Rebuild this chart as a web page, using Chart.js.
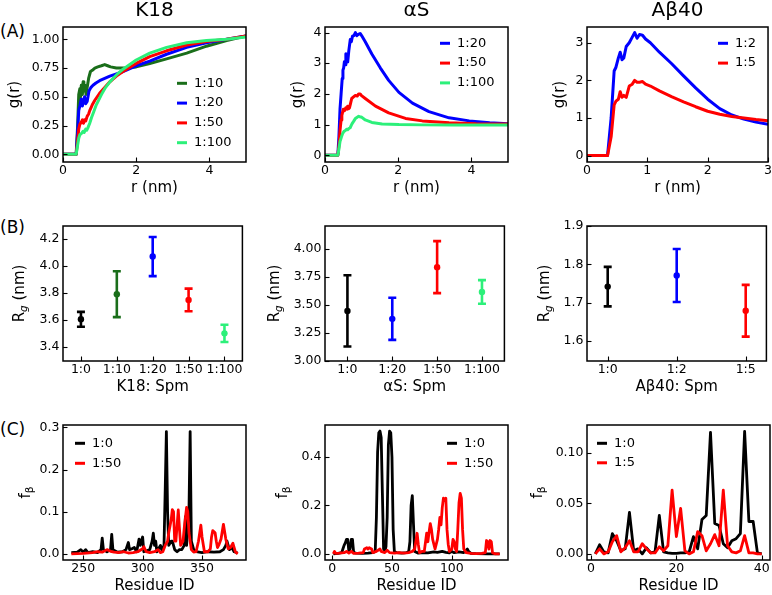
<!DOCTYPE html>
<html><head><meta charset="utf-8">
<script src="https://cdn.jsdelivr.net/npm/chart.js@4.4.1/dist/chart.umd.min.js"></script>
<style>
html,body{margin:0;padding:0;background:#fff;overflow:hidden}
body{width:772px;height:595px;position:relative;font-family:"DejaVu Sans",sans-serif}
canvas{position:absolute}
.pl{position:absolute;font-size:17px;line-height:20px;color:#000;white-space:nowrap}
</style></head><body>
<div class="pl" style="left:0;top:21px">(A)</div>
<div class="pl" style="left:0;top:217px">(B)</div>
<div class="pl" style="left:0;top:419px">(C)</div>
<script>
// ---------------- DATA ----------------
// Row A: g(r)
const k18R10 = [0,0.36,0.40,0.43,0.46,0.48,0.50,0.53,0.55,0.57,0.60,0.63,0.66,0.70,0.75,0.80,0.87,0.95,1.05,1.14,1.22,1.30,1.46,1.73,2.00,2.37,2.83,3.38,3.92,4.47,5.00];
const k18G10 = [0,0,0.25,0.52,0.57,0.50,0.60,0.52,0.63,0.55,0.60,0.52,0.58,0.66,0.72,0.73,0.75,0.76,0.77,0.78,0.77,0.76,0.75,0.75,0.76,0.79,0.83,0.88,0.94,0.99,1.03];
const k18R20 = [0,0.36,0.40,0.43,0.46,0.50,0.53,0.55,0.59,0.62,0.66,0.71,0.76,0.82,0.90,1.00,1.14,1.28,1.46,1.64,2.00,2.37,2.83,3.38,3.92,4.47,5.00];
const k18G20 = [0,0,0.2,0.38,0.42,0.48,0.42,0.46,0.50,0.44,0.46,0.55,0.58,0.60,0.62,0.64,0.66,0.68,0.70,0.72,0.77,0.81,0.87,0.93,0.97,1.00,1.03];
const k18R50 = [0,0.36,0.40,0.43,0.46,0.50,0.53,0.56,0.59,0.62,0.66,0.70,0.73,0.80,0.87,1.00,1.14,1.28,1.46,1.64,2.00,2.37,2.83,3.38,3.92,4.47,5.00];
const k18G50 = [0,0,0.12,0.22,0.26,0.28,0.30,0.27,0.30,0.29,0.33,0.35,0.38,0.43,0.47,0.53,0.58,0.63,0.68,0.72,0.79,0.85,0.90,0.95,0.98,1.00,1.03];
const k18R100 = [0,0.36,0.40,0.43,0.46,0.50,0.55,0.58,0.62,0.65,0.68,0.73,0.78,0.84,0.91,1.05,1.16,1.28,1.46,1.64,2.00,2.37,2.83,3.38,3.92,4.47,5.00];
const k18G100 = [0,0,0.08,0.14,0.17,0.18,0.20,0.19,0.22,0.21,0.23,0.27,0.32,0.37,0.43,0.52,0.58,0.63,0.69,0.74,0.82,0.88,0.93,0.97,0.99,1.00,1.02];

const asR20 = [0,0.35,0.38,0.41,0.44,0.47,0.49,0.51,0.53,0.55,0.57,0.60,0.62,0.65,0.69,0.72,0.75,0.79,0.83,0.87,0.90,0.93,0.96,1.00,1.10,1.28,1.51,1.74,2.02,2.39,2.84,3.39,3.94,4.50,5.00];
const asG20 = [0,0,0.6,1.5,2.0,2.5,2.77,2.85,3.05,2.95,3.31,3.1,3.04,3.4,3.77,3.7,3.88,3.9,4.0,3.9,3.93,3.95,3.97,3.9,3.7,3.3,2.85,2.44,2.05,1.7,1.42,1.22,1.12,1.06,1.03];
const asR50 = [0,0.35,0.38,0.41,0.44,0.46,0.50,0.53,0.57,0.60,0.62,0.65,0.67,0.70,0.73,0.78,0.83,0.88,0.92,0.96,0.99,1.10,1.38,1.74,2.20,2.66,3.39,4.13,5.00];
const asG50 = [0,0,0.3,0.8,1.15,1.3,1.5,1.45,1.55,1.5,1.6,1.52,1.55,1.7,1.85,1.9,1.95,1.93,2.0,2.0,1.95,1.85,1.6,1.38,1.2,1.12,1.06,1.03,1.02];
const asR100 = [0,0.35,0.38,0.41,0.45,0.48,0.52,0.55,0.59,0.62,0.66,0.69,0.72,0.75,0.79,0.83,0.88,0.92,0.96,0.99,1.10,1.28,1.56,2.02,2.66,3.50,5.00];
const asG100 = [0,0,0.2,0.45,0.6,0.7,0.78,0.8,0.85,0.83,0.88,0.9,0.98,1.05,1.12,1.2,1.24,1.27,1.25,1.25,1.15,1.07,1.02,1.0,0.99,0.99,0.99];

const abR = [0,0.34,0.40,0.45,0.48,0.52,0.55,0.58,0.61,0.65,0.70,0.75,0.79,0.83,0.87,0.92,0.97,1.05,1.20,1.40,1.60,1.80,2.00,2.20,2.40,2.60,2.80,3.00];
const abG2 = [0,0,1.0,2.25,2.35,2.6,2.75,2.55,2.6,2.9,3.0,3.15,3.27,3.12,3.22,3.2,3.1,3.0,2.75,2.45,2.12,1.8,1.5,1.25,1.08,0.97,0.89,0.83];
const abG5 = [0,0,0.5,1.35,1.45,1.5,1.7,1.55,1.6,1.55,1.85,1.9,2.0,1.95,1.95,1.97,1.9,1.85,1.72,1.57,1.43,1.3,1.18,1.1,1.04,1.0,0.96,0.93];

// Row B: Rg (mean, error)
const k18Cats = ['1:0','1:10','1:20','1:50','1:100'];
const k18Rg = [3.607,3.793,4.072,3.750,3.503];
const k18RgErr = [0.055,0.170,0.145,0.084,0.064];
const asCats = ['1:0','1:20','1:50','1:100'];
const asRg = [3.447,3.376,3.837,3.616];
const asRgErr = [0.318,0.188,0.232,0.105];
const abCats = ['1:0','1:2','1:5'];
const abRg = [1.742,1.771,1.679];
const abRgErr = [0.0515,0.069,0.0675];

// Row C: f_beta per residue
const c1Res0 = [240,245,248,250,252,254,258,262,265,266,267,270,273,274,275,279,283,286,288,289,291,293,295,297,298,300,301,304,306,308,309,310,311,312,315,316,318,319,320,321,322,324,325,327,329,331,333,335,336,337,339,340,341,343,345,350,355,360,365,368,370,371,373,375,377,380];
const c1Fb0 = [0.003,0.004,0.01,0.004,0.01,0.003,0.005,0.003,0.01,0.037,0.01,0.005,0.01,0.046,0.01,0.004,0.005,0.01,0.027,0.01,0.012,0.015,0.005,0.035,0.02,0.04,0.005,0.008,0.01,0.03,0.049,0.02,0.03,0.005,0.02,0.01,0.02,0.15,0.29,0.1,0.02,0.03,0.03,0.01,0.005,0.01,0.01,0.02,0.088,0.02,0.1,0.29,0.03,0.01,0.005,0.003,0.005,0.004,0.005,0.01,0.02,0.03,0.01,0.015,0.005,0.002];
const c1Res50 = [240,250,258,262,266,270,273,276,280,284,288,292,296,300,301,303,306,310,313,315,317,319,321,322,324,325,326,327,328,330,331,332,334,335,337,338,339,341,343,345,347,349,350,352,355,357,358,359,361,362,363,364,366,368,370,372,374,376,378,380];
const c1Fb50 = [0,0.001,0.003,0.005,0.004,0.01,0.006,0.004,0.003,0.005,0.002,0.003,0.005,0.012,0.017,0.005,0.003,0.005,0.01,0.003,0.005,0.02,0.03,0.05,0.08,0.105,0.1,0.03,0.03,0.104,0.06,0.02,0.03,0.06,0.11,0.1,0.05,0.01,0.004,0.005,0.03,0.068,0.04,0.005,0.005,0.012,0.04,0.055,0.05,0.03,0.015,0.02,0.035,0.07,0.035,0.012,0.015,0.025,0.005,0];

const c2Res0 = [1,5,8,9,10,11,12,13,14,15,16,17,18,20,25,30,34,36,37,38,39,40,41,42,43,44,45,46,47,48,49,50,51,52,54,58,62,64,65,66,67,68,69,72,76,80,85,88,92,95,98,100,102,106,110,112,113,114,116,120,130,140];
const c2Fb0 = [0,0.002,0.005,0.02,0.035,0.045,0.06,0.06,0.01,0.02,0.06,0.06,0.005,0.003,0.002,0.003,0.005,0.01,0.15,0.42,0.5,0.507,0.48,0.25,0.02,0.01,0.03,0.15,0.45,0.507,0.5,0.4,0.1,0.01,0.005,0.003,0.005,0.01,0.05,0.2,0.24,0.12,0.01,0.003,0.005,0.004,0.008,0.006,0.01,0.006,0.004,0.01,0.005,0.008,0.005,0.015,0.02,0.01,0.002,0.001,0,0];
const c2Res50 = [1,2,3,6,10,12,14,16,18,22,26,27,29,30,31,33,34,37,40,41,44,46,48,52,56,60,64,67,69,71,72,73,75,77,79,80,81,82,83,84,86,88,89,90,91,92,93,94,95,96,97,98,100,101,102,103,104,105,106,107,108,109,110,112,116,120,125,128,129,130,131,132,133,134,136,140];
const c2Fb50 = [0,0.01,0.002,0.003,0.005,0.01,0.003,0.01,0.002,0.003,0.005,0.02,0.025,0.02,0.025,0.02,0.005,0.01,0.02,0.01,0.005,0.015,0.005,0.003,0.005,0.003,0.005,0.01,0.02,0.085,0.04,0.005,0.01,0.01,0.085,0.05,0.09,0.125,0.1,0.06,0.02,0.06,0.1,0.15,0.12,0.19,0.23,0.22,0.23,0.1,0.04,0.01,0.02,0.06,0.05,0.02,0.01,0.1,0.21,0.25,0.23,0.1,0.02,0.005,0.002,0.001,0.002,0.005,0.055,0.05,0.02,0.055,0.05,0.005,0,0];

const c3Res = [1,2,3,4,5,6,7,8,9,10,11,12,13,14,15,16,17,18,19,20,21,22,23,24,25,26,27,28,29,30,31,32,33,34,35,36,37,38,39,40];
const c3Fb0 = [0,0.009,0.002,0.001,0.02,0.013,0.003,0.005,0.041,0.003,0.005,0,0.006,0.001,0.002,0.038,0.002,0.001,0.0005,0.0005,0.001,0.001,0.002,0.017,0.005,0.034,0.038,0.12,0.03,0.028,0.01,0.006,0.013,0.015,0.02,0.121,0.032,0.032,0.001,0];
const c3Fb5 = [0,0.005,0,0.002,0.012,0.018,0.002,0.006,0.013,0.002,0.002,0.01,0.005,0.001,0.001,0.007,0.003,0.008,0.063,0.017,0.045,0.003,0,0.002,0.022,0.018,0.003,0.01,0.019,0.008,0.063,0.008,0.002,0.001,0.003,0.018,0.001,0.001,0,0];

// Tick values / labels
const a1XTicks=[0,2,4], a1XLabels=['0','2','4'];
const a1YTicks=[0,0.25,0.5,0.75,1.0], a1YLabels=['0.00','0.25','0.50','0.75','1.00'];
const a2YTicks=[0,1,2,3,4], a2YLabels=['0','1','2','3','4'];
const a3XTicks=[0,1,2,3], a3XLabels=['0','1','2','3'];
const a3YTicks=[0,1,2,3], a3YLabels=['0','1','2','3'];
const b1YTicks=[3.4,3.6,3.8,4.0,4.2], b1YLabels=['3.4','3.6','3.8','4.0','4.2'];
const b2YTicks=[3.0,3.25,3.5,3.75,4.0], b2YLabels=['3.00','3.25','3.50','3.75','4.00'];
const b3YTicks=[1.6,1.7,1.8,1.9], b3YLabels=['1.6','1.7','1.8','1.9'];
const c1XTicks=[250,300,350], c1XLabels=['250','300','350'];
const c1YTicks=[0,0.1,0.2,0.3], c1YLabels=['0.0','0.1','0.2','0.3'];
const c2XTicks=[0,50,100], c2XLabels=['0','50','100'];
const c2YTicks=[0,0.2,0.4], c2YLabels=['0.0','0.2','0.4'];
const c3XTicks=[0,20,40], c3XLabels=['0','20','40'];
const c3YTicks=[0,0.05,0.10], c3YLabels=['0.00','0.05','0.10'];

// ---------------- STYLE / LAYOUT ----------------
const F = '"DejaVu Sans", sans-serif';
const BLACK='#000000', DG='#1a6e1a', BLUE='#0000ff', RED='#ff0000', LG='#2cf07a';
const COLS=[63,325,587], ROWS=[27,226,425];
const PW=183, PH=135, YW=62, XH=35, PT=27, PR=3;
const TL=4.5;

const pts=(xs,ys)=>xs.map((x,i)=>({x:x,y:ys[i]}));

const decor = {
  id:'decor',
  afterDatasetsDraw(chart, args, o){
    const ctx=chart.ctx, a=chart.chartArea, xs=chart.scales.x, ys=chart.scales.y;
    ctx.save();
    ctx.strokeStyle='#000'; ctx.lineWidth=1.1;
    xs.ticks.forEach(t=>{const p=Math.round(xs.getPixelForValue(t.value))+0.5; ctx.beginPath(); ctx.moveTo(p,a.bottom); ctx.lineTo(p,a.bottom-TL); ctx.stroke();});
    ys.ticks.forEach(t=>{const p=Math.round(ys.getPixelForValue(t.value))+0.5; ctx.beginPath(); ctx.moveTo(a.left,p); ctx.lineTo(a.left+TL,p); ctx.stroke();});
    ctx.lineWidth=1.5;
    ctx.strokeRect(a.left,a.top,a.right-a.left,a.bottom-a.top);
    ctx.fillStyle='#000';
    if(o.title){
      ctx.font='20px '+F; ctx.textAlign='center'; ctx.textBaseline='middle';
      ctx.fillText(o.title,(a.left+a.right)/2,10.5);
    }
    if(o.ytitle){
      const cx=a.left-o.yOff, cy=(a.top+a.bottom)/2, fs=15;
      ctx.translate(cx,cy); ctx.rotate(-Math.PI/2);
      ctx.textAlign='left'; ctx.textBaseline='middle';
      let tot=0;
      const parts=o.ytitle.map(p=>{const f=(p.it?'italic ':'')+(p.sub?fs*0.7:fs)+'px '+F; ctx.font=f; const w=ctx.measureText(p.t).width; tot+=w; return {t:p.t,f:f,w:w,sub:p.sub};});
      let x=-tot/2;
      parts.forEach(p=>{ctx.font=p.f; ctx.fillText(p.t,x,p.sub?fs*0.3:0); x+=p.w;});
      ctx.setTransform(1,0,0,1,0,0);
    }
    if(o.legend){
      const lg=o.legend;
      ctx.font='13px '+F; ctx.textAlign='left'; ctx.textBaseline='middle';
      chart.data.datasets.filter(d=>d.label).forEach((d,i)=>{
        const y=a.top+lg.y+i*lg.dy, x=a.left+lg.x;
        ctx.strokeStyle=d.borderColor; ctx.lineWidth=3; ctx.lineCap='butt';
        ctx.beginPath(); ctx.moveTo(x,y); ctx.lineTo(x+10,y); ctx.stroke();
        ctx.fillStyle='#000'; ctx.fillText(d.label,x+17,y);
      });
    }
    ctx.restore();
  }
};

function axis(id,s){
  return {
    type:'linear', position: id==='x'?'bottom':'left', min:s.min, max:s.max, bounds:'data',
    afterBuildTicks: sc=>{ sc.ticks=s.ticks.map(v=>({value:v})); },
    afterFit: sc=>{ if(id==='x') sc.height=XH; else sc.width=YW; },
    grid:{display:false, drawTicks:false}, border:{display:false},
    ticks:{autoSkip:false, maxRotation:0, minRotation:0, padding:id==='x'?1:3.5, color:'#000',
      font:{family:F,size:12.5}, callback:(v,i)=>s.labels[i]},
    title: id==='x'?{display:true,text:s.title,color:'#000',font:{family:F,size:15},padding:{top:0,bottom:0}}:{display:false}
  };
}

function lineSet(label,color,xs,ys,w,i){
  return {label:label,data:pts(xs,ys),borderColor:color,backgroundColor:color,borderWidth:w,pointRadius:0,tension:0,fill:false,order:-i,borderJoinStyle:'round'};
}

function errSets(cats,means,errs,colors){
  const sets=[];
  cats.forEach((c,i)=>{
    sets.push({data:[{x:i,y:means[i]-errs[i]},{x:i,y:means[i]+errs[i]}],showLine:true,borderColor:colors[i],borderWidth:2.6,
      pointStyle:'line',pointRadius:4,pointBorderWidth:2.6,pointBorderColor:colors[i],pointBackgroundColor:colors[i]});
  });
  sets.push({data:means.map((m,i)=>({x:i,y:m})),showLine:false,pointStyle:'circle',pointRadius:3.2,pointBorderWidth:0,
    pointBackgroundColor:colors,pointBorderColor:colors});
  return sets;
}

function panel(col,row,datasets,x,y,dec){
  const cv=document.createElement('canvas');
  const W=YW+PW+PR, H=PT+PH+XH;
  cv.width=W; cv.height=H; cv.style.width=W+'px'; cv.style.height=H+'px';
  cv.style.left=(COLS[col]-YW)+'px'; cv.style.top=(ROWS[row]-PT)+'px';
  document.body.appendChild(cv);
  new Chart(cv,{type:'line',data:{datasets:datasets},options:{
    responsive:false, animation:false, devicePixelRatio:1, events:[],
    layout:{padding:{top:PT,right:PR,left:0,bottom:0}},
    plugins:{legend:{display:false},tooltip:{enabled:false},decor:dec},
    scales:{x:axis('x',x),y:axis('y',y)}
  },plugins:[decor]});
}

const gTitle=[{t:'g(r)'}];
const rgTitle=[{t:'R'},{t:'g',sub:true,it:true},{t:' (nm)'}];
const fbTitle=[{t:'f'},{t:'β',sub:true}];

// Row A
panel(0,0,[
  lineSet('1:10',DG,k18R10,k18G10,3,0),
  lineSet('1:20',BLUE,k18R20,k18G20,3,1),
  lineSet('1:50',RED,k18R50,k18G50,3,2),
  lineSet('1:100',LG,k18R100,k18G100,3,3)],
  {min:0,max:5,ticks:a1XTicks,labels:a1XLabels,title:'r (nm)'},
  {min:-0.067,max:1.107,ticks:a1YTicks,labels:a1YLabels},
  {title:'K18',ytitle:gTitle,yOff:48,legend:{x:114,y:56.3,dy:19.8}});
panel(1,0,[
  lineSet('1:20',BLUE,asR20,asG20,3,0),
  lineSet('1:50',RED,asR50,asG50,3,1),
  lineSet('1:100',LG,asR100,asG100,3,2)],
  {min:0,max:5,ticks:a1XTicks,labels:a1XLabels,title:'r (nm)'},
  {min:-0.22,max:4.18,ticks:a2YTicks,labels:a2YLabels},
  {title:'αS',ytitle:gTitle,yOff:27,legend:{x:115,y:16.3,dy:19.8}});
panel(2,0,[
  lineSet('1:2',BLUE,abR,abG2,3,0),
  lineSet('1:5',RED,abR,abG5,3,1)],
  {min:0,max:3,ticks:a3XTicks,labels:a3XLabels,title:'r (nm)'},
  {min:-0.17,max:3.42,ticks:a3YTicks,labels:a3YLabels},
  {title:'Aβ40',ytitle:gTitle,yOff:27,legend:{x:131,y:16.3,dy:19.8}});

// Row B
panel(0,1,errSets(k18Cats,k18Rg,k18RgErr,[BLACK,DG,BLUE,RED,LG]),
  {min:-0.5,max:4.5,ticks:[0,1,2,3,4],labels:k18Cats,title:'K18: Spm'},
  {min:3.298,max:4.298,ticks:b1YTicks,labels:b1YLabels},
  {ytitle:rgTitle,yOff:43});
panel(1,1,errSets(asCats,asRg,asRgErr,[BLACK,BLUE,RED,LG]),
  {min:-0.5,max:3.5,ticks:[0,1,2,3],labels:asCats,title:'αS: Spm'},
  {min:3.0,max:4.204,ticks:b2YTicks,labels:b2YLabels},
  {ytitle:rgTitle,yOff:50});
panel(2,1,errSets(abCats,abRg,abRgErr,[BLACK,BLUE,RED]),
  {min:-0.3,max:2.3,ticks:[0,1,2],labels:abCats,title:'Aβ40: Spm'},
  {min:1.548,max:1.9,ticks:b3YTicks,labels:b3YLabels},
  {ytitle:rgTitle,yOff:42});

// Row C
panel(0,2,[
  lineSet('1:0',BLACK,c1Res0,c1Fb0,2.8,0),
  lineSet('1:50',RED,c1Res50,c1Fb50,2.8,1)],
  {min:233,max:387,ticks:c1XTicks,labels:c1XLabels,title:'Residue ID'},
  {min:-0.0146,max:0.3056,ticks:c1YTicks,labels:c1YLabels},
  {ytitle:fbTitle,yOff:37,legend:{x:12,y:18.3,dy:20}});
panel(1,2,[
  lineSet('1:0',BLACK,c2Res0,c2Fb0,2.8,0),
  lineSet('1:50',RED,c2Res50,c2Fb50,2.8,1)],
  {min:-5.95,max:146.95,ticks:c2XTicks,labels:c2XLabels,title:'Residue ID'},
  {min:-0.0254,max:0.532,ticks:c2YTicks,labels:c2YLabels},
  {ytitle:fbTitle,yOff:42,legend:{x:122,y:18.3,dy:20}});
panel(2,2,[
  lineSet('1:0',BLACK,c3Res,c3Fb0,2.8,0),
  lineSet('1:5',RED,c3Res,c3Fb5,2.8,1)],
  {min:-0.95,max:41.95,ticks:c3XTicks,labels:c3XLabels,title:'Residue ID'},
  {min:-0.00605,max:0.1273,ticks:c3YTicks,labels:c3YLabels},
  {ytitle:fbTitle,yOff:49,legend:{x:10,y:18.3,dy:19.5}});
</script>
</body></html>
